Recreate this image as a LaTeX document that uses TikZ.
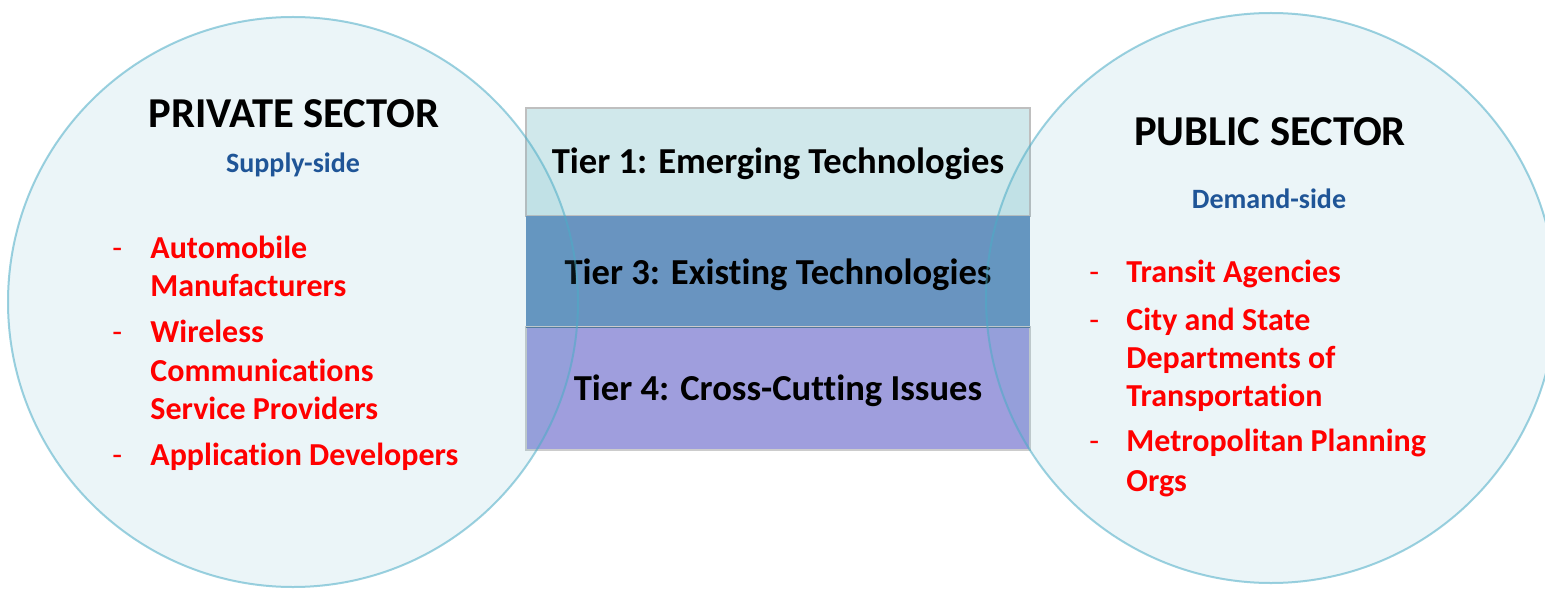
\documentclass[tikz,border=0pt]{standalone}
\usepackage{fontspec}
\setmainfont{Carlito}[RawFeature=-liga]
\definecolor{circfill}{HTML}{4BACC6}
\definecolor{tierone}{HTML}{D0E8EB}
\definecolor{tierthree}{HTML}{6994C0}
\definecolor{tierfour}{HTML}{9F9EDD}
\definecolor{subblue}{HTML}{1F5597}
\definecolor{itemred}{HTML}{FF0000}
\begin{document}
\begin{tikzpicture}[x=0.5pt,y=-0.5pt,
  sector/.style={circle, minimum size=285pt, inner sep=0pt, fill=circfill, fill opacity=0.11, draw=circfill, draw opacity=0.55, line width=1pt},
  tierbox/.style={rectangle, minimum width=252pt, inner sep=0pt, font=\bfseries\fontsize{18.3}{22}\selectfont, text=black},
  tierlabel/.style={font=\bfseries\fontsize{18.3}{22}\selectfont, text=black, inner sep=0pt},
  title/.style={anchor=base, font=\bfseries\fontsize{21.3}{25}\selectfont, text=black},
  subtitle/.style={anchor=base, font=\bfseries\fontsize{14}{17}\selectfont, text=subblue},
  item/.style={anchor=base west, font=\bfseries\fontsize{16}{19}\selectfont, text=itemred, inner sep=0pt},
  bullet/.style={anchor=base west, font=\fontsize{16}{19}\selectfont, text=itemred, inner sep=0pt}]
\useasboundingbox (0,0) rectangle (1545,593);
\fill[white] (0,0) rectangle (1545,593);
% tiers
\node[tierbox, minimum height=54pt, fill=tierone, draw=black!25, line width=0.75pt] (t1) at (778,162) {};
\node[tierbox, minimum height=55.5pt, fill=tierthree] (t3) at (778,271.5) {};
\node[tierbox, minimum height=61.5pt, fill=tierfour, draw=black!20, line width=0.75pt] (t4) at (778,388.5) {};
\draw[tierthree!80!black, line width=0.6pt] (t3.south west) -- (t3.south east);
\node[tierlabel, anchor=base] (l1) at (778,174) {Tier 1: Emerging Technologies};
\node[tierlabel, anchor=base] (l3) at (778,284) {Tier 3: Existing Technologies};
\node[tierlabel, anchor=base] (l4) at (778,400) {Tier 4: Cross-Cutting Issues};
% circles
\node[sector] (priv) at (293,302) {};
\node[sector] (pub) at (1271,298) {};
% private sector text
\node[title] (ptitle) at (294,128) {PRIVATE SECTOR};
\node[subtitle] (psub) at (293,173) {Supply-side};
\node[bullet] (pd1) at (112,258) {-};
\node[item] (pa1) at (150,258) {Automobile};
\node[item] (pa2) at (150,296) {Manufacturers};
\node[bullet] (pd2) at (112,342) {-};
\node[item] (pb1) at (150,342) {Wireless};
\node[item] (pb2) at (150,381) {Communications};
\node[item] (pb3) at (150,419) {Service Providers};
\node[bullet] (pd3) at (112,465) {-};
\node[item] (pc1) at (150,465) {Application Developers};
% public sector text
\node[title] (utitle) at (1270,146) {PUBLIC SECTOR};
\node[subtitle] (usub) at (1269,208) {Demand-side};
\node[bullet] (ud1) at (1089,282) {-};
\node[item] (ua1) at (1126,282) {Transit Agencies};
\node[bullet] (ud2) at (1089,330) {-};
\node[item] (ub1) at (1126,330) {City and State};
\node[item] (ub2) at (1126,368) {Departments of};
\node[item] (ub3) at (1126,406) {Transportation};
\node[bullet] (ud3) at (1089,451) {-};
\node[item] (uc1) at (1126,451) {Metropolitan Planning};
\node[item] (uc2) at (1126,491) {Orgs};
\end{tikzpicture}
\end{document}
